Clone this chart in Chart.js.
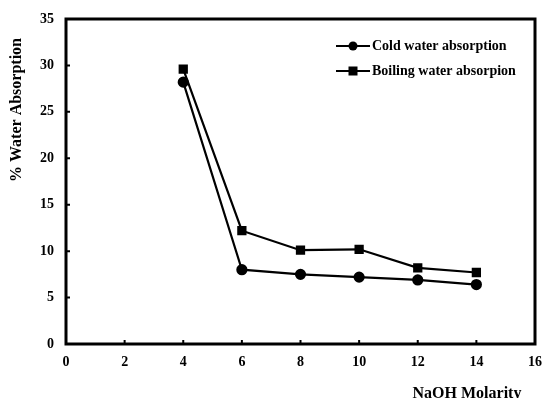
<!DOCTYPE html>
<html>
<head>
<meta charset="utf-8">
<script src="https://cdn.jsdelivr.net/npm/chart.js@4/dist/chart.umd.min.js"></script>
<style>
  html, body { margin: 0; padding: 0; background: #fff; }
  #wrap { width: 543px; height: 398px; position: relative; }
</style>
</head>
<body>
<div id="wrap"><canvas id="c" width="543" height="398"></canvas></div>
<script>
// NaOH molarity (M) and water absorption (%)
const molarity = [4, 6, 8, 10, 12, 14];
const coldAbsorption = [28.2, 8.0, 7.5, 7.2, 6.9, 6.4];
const boilingAbsorption = [29.6, 12.2, 10.1, 10.2, 8.2, 7.7];
const seriesNames = ['Cold water absorption', 'Boiling water absorpion'];
const xTitle = 'NaOH Molarity';
const yTitle = '% Water Absorption';

const FONT = "'Liberation Serif', 'Times New Roman', serif";

// Frame, inward ticks, legend and axis titles
const decor = {
  id: 'decor',
  afterDraw(chart) {
    const ctx = chart.ctx;
    const a = chart.chartArea;
    const xs = chart.scales.x, ys = chart.scales.y;
    ctx.save();
    ctx.strokeStyle = '#000';
    ctx.lineWidth = 3;
    ctx.strokeRect(a.left, a.top, a.right - a.left, a.bottom - a.top);

    // inward tick marks
    ctx.lineWidth = 2;
    ctx.beginPath();
    xs.ticks.forEach(t => {
      const px = xs.getPixelForValue(t.value);
      ctx.moveTo(px, a.bottom);
      ctx.lineTo(px, a.bottom - 4);
    });
    ys.ticks.forEach(t => {
      const py = ys.getPixelForValue(t.value);
      ctx.moveTo(a.left, py);
      ctx.lineTo(a.left + 4, py);
    });
    ctx.stroke();

    // legend
    ctx.font = 'bold 14px ' + FONT;
    ctx.textBaseline = 'middle';
    ctx.textAlign = 'left';
    chart.data.datasets.forEach((ds, i) => {
      const y = 46 + i * 25;
      ctx.lineWidth = 2;
      ctx.beginPath();
      ctx.moveTo(336, y);
      ctx.lineTo(370, y);
      ctx.stroke();
      ctx.fillStyle = '#000';
      if (ds.pointStyle === 'rect') {
        ctx.fillRect(353 - 4.5, y - 4.5, 9, 9);
      } else {
        ctx.beginPath();
        ctx.arc(353, y, 4.5, 0, Math.PI * 2);
        ctx.fill();
      }
      ctx.fillText(ds.label, 372, y);
    });

    // axis titles
    ctx.font = 'bold 16px ' + FONT;
    ctx.textAlign = 'center';
    ctx.fillText(xTitle, 467, 394);
    ctx.translate(17, 110);
    ctx.rotate(-Math.PI / 2);
    ctx.fillText(yTitle, 0, 0);
    ctx.restore();
  }
};

new Chart(document.getElementById('c'), {
  type: 'line',
  data: {
    datasets: [
      {
        label: seriesNames[0],
        data: molarity.map((m, i) => ({ x: m, y: coldAbsorption[i] })),
        borderColor: '#000',
        backgroundColor: '#000',
        borderWidth: 2.2,
        pointStyle: 'circle',
        pointRadius: 4.5,
        tension: 0
      },
      {
        label: seriesNames[1],
        data: molarity.map((m, i) => ({ x: m, y: boilingAbsorption[i] })),
        borderColor: '#000',
        backgroundColor: '#000',
        borderWidth: 2.2,
        pointStyle: 'rect',
        pointRadius: 5,
        tension: 0
      }
    ]
  },
  options: {
    responsive: false,
    animation: false,
    events: [],
    layout: { padding: { top: 19, right: 8, left: 0, bottom: 0 } },
    plugins: { legend: { display: false }, tooltip: { enabled: false } },
    scales: {
      x: {
        type: 'linear',
        min: 0, max: 16,
        ticks: { stepSize: 2, color: '#000', padding: 10, font: { family: FONT, size: 14, weight: 'bold' } },
        grid: { display: false, drawTicks: false },
        border: { display: false },
        afterFit(s) { s.height = 54; s.paddingRight = 0; s.paddingLeft = 0; }
      },
      y: {
        min: 0, max: 35,
        ticks: { stepSize: 5, color: '#000', padding: 12, font: { family: FONT, size: 14, weight: 'bold' } },
        grid: { display: false, drawTicks: false },
        border: { display: false },
        afterFit(s) { s.width = 66; s.paddingTop = 0; s.paddingBottom = 0; }
      }
    }
  },
  plugins: [decor]
});
</script>
</body>
</html>
